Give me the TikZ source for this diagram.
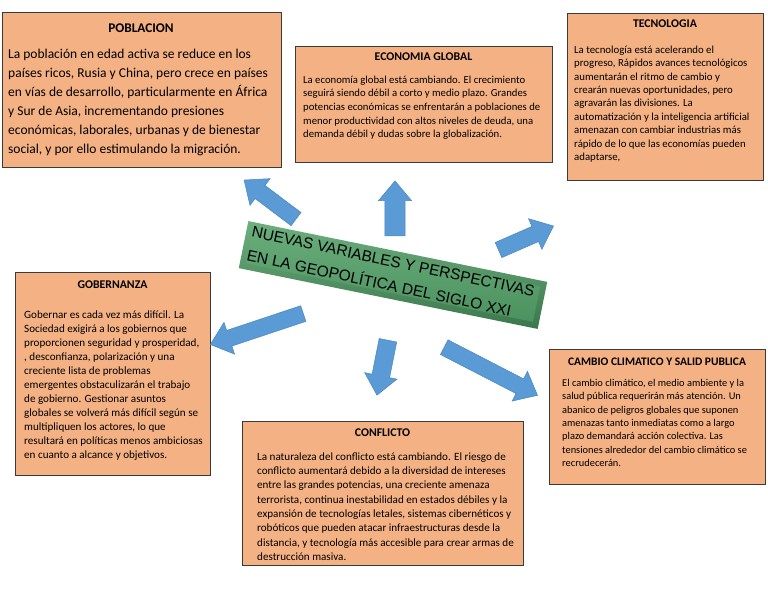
\documentclass[tikz,border=0pt]{standalone}
\usepackage{fontspec}
\setmainfont{Carlito}
\newfontfamily\bannerfont{Liberation Sans}
\usetikzlibrary{shapes.arrows}
\definecolor{boxfill}{HTML}{F4B183}
\definecolor{boxline}{HTML}{3A3A3A}
\definecolor{arrowblue}{HTML}{5B9BD5}
\definecolor{arrowedge}{HTML}{4A86C0}
\definecolor{greendark}{HTML}{3B774C}
\definecolor{greenedge}{HTML}{6DB07E}
\definecolor{greenlight}{HTML}{67AC79}
\definecolor{greenmid}{HTML}{4C9260}
\tikzset{
  infobox/.style={draw=boxline, fill=boxfill, line width=0.9pt, anchor=north west, inner sep=0pt},
  boxtitle/.style={font=\fontsize{11.8}{13}\selectfont\bfseries, inner sep=0pt},
  bodytext/.style={anchor=north west, inner sep=0pt, align=left},
  smallbody/.style={bodytext, font=\fontsize{10.7}{13.6}\selectfont},
  blockarrow/.style={single arrow, fill=arrowblue, draw=arrowedge, line width=0.5pt,
    text height=16pt, text depth=0pt, text width=0pt, minimum width=33pt,
    single arrow head extend=8.5pt, inner sep=0pt, single arrow tip angle=80},
  bannertext/.style={anchor=north west, inner sep=0pt, transform shape, align=left,
    font=\bannerfont\fontsize{15.5}{24}\selectfont},
}
\begin{document}
\begin{tikzpicture}[x=1pt, y=-1pt]
\useasboundingbox (0,0) rectangle (768,594);
\fill[white] (0,0) rectangle (768,594);

% ---------- POBLACION
\node[infobox, minimum width=279pt, minimum height=155pt] (pob) at (2,12) {};
\node[boxtitle, font=\fontsize{13.3}{15}\selectfont\bfseries] (pobt) at (141,28) {POBLACION};
\node[bodytext, font=\fontsize{13.5}{19}\selectfont] (pobb) at (8,45) {\rule{0pt}{13pt}La población en edad activa se reduce en los\\
países ricos, Rusia y China, pero crece en países\\
en vías de desarrollo, particularmente en África\\
y Sur de Asia, incrementando presiones\\
económicas, laborales, urbanas y de bienestar\\
social, y por ello estimulando la migración.};

% ---------- ECONOMIA GLOBAL
\node[infobox, minimum width=257pt, minimum height=116pt] (eco) at (295,46) {};
\node[boxtitle] (ecot) at (423.5,57) {ECONOMIA GLOBAL};
\node[smallbody] (ecob) at (303,73) {\rule{0pt}{10pt}La economía global está cambiando. El crecimiento\\
seguirá siendo débil a corto y medio plazo. Grandes\\
potencias económicas se enfrentarán a poblaciones de\\
menor productividad con altos niveles de deuda, una\\
demanda débil y dudas sobre la globalización.};

% ---------- TECNOLOGIA
\node[infobox, minimum width=196pt, minimum height=167pt] (tec) at (567,13) {};
\node[boxtitle] (tect) at (665,24) {TECNOLOGIA};
\node[smallbody, font=\fontsize{10.8}{13.4}\selectfont] (tecb) at (574,43) {\rule{0pt}{10pt}La tecnología está acelerando el\\
progreso, Rápidos avances tecnológicos\\
aumentarán el ritmo de cambio y\\
crearán nuevas oportunidades, pero\\
agravarán las divisiones. La\\
automatización y la inteligencia artificial\\
amenazan con cambiar industrias más\\
rápido de lo que las economías pueden\\
adaptarse,};

% ---------- GOBERNANZA
\node[infobox, minimum width=195pt, minimum height=203pt] (gob) at (15,272) {};
\node[boxtitle] (gobt) at (112.5,285) {GOBERNANZA};
\node[smallbody, font=\fontsize{11.1}{14}\selectfont] (gobb) at (24,308) {\rule{0pt}{10pt}Gobernar es cada vez más difícil. La\\
Sociedad exigirá a los gobiernos que\\
proporcionen seguridad y prosperidad,\\
, desconfianza, polarización y una\\
creciente lista de problemas\\
emergentes obstaculizarán el trabajo\\
de gobierno. Gestionar asuntos\\
globales se volverá más difícil según se\\
multipliquen los actores, lo que\\
resultará en políticas menos ambiciosas\\
en cuanto a alcance y objetivos.};

% ---------- CONFLICTO
\node[infobox, minimum width=281pt, minimum height=144pt] (con) at (242,421) {};
\node[boxtitle] (cont) at (382.5,433) {CONFLICTO};
\node[smallbody, font=\fontsize{11.1}{14.3}\selectfont] (conb) at (257,450) {\rule{0pt}{10pt}La naturaleza del conflicto está cambiando. El riesgo de\\
conflicto aumentará debido a la diversidad de intereses\\
entre las grandes potencias, una creciente amenaza\\
terrorista, continua inestabilidad en estados débiles y la\\
expansión de tecnologías letales, sistemas cibernéticos y\\
robóticos que pueden atacar infraestructuras desde la\\
distancia, y tecnología más accesible para crear armas de\\
destrucción masiva.};

% ---------- CAMBIO CLIMATICO
\node[infobox, minimum width=216pt, minimum height=135pt] (cam) at (549,349) {};
\node[boxtitle, font=\fontsize{11.5}{13}\selectfont\bfseries] (camt) at (657,362) {CAMBIO CLIMATICO Y SALID PUBLICA};
\node[smallbody, font=\fontsize{10.4}{13.4}\selectfont] (camb) at (562,376) {\rule{0pt}{10pt}El cambio climático, el medio ambiente y la\\
salud pública requerirán más atención. Un\\
abanico de peligros globales que suponen\\
amenazas tanto inmediatas como a largo\\
plazo demandará acción colectiva. Las\\
tensiones alrededor del cambio climático se\\
recrudecerán.};

% ---------- central banner
\node[rotate=-11.5, minimum width=305pt, minimum height=48pt, inner sep=0pt,
      top color=greenedge, bottom color=greendark] (banner) at (393,275) {};
\node[rotate=-11.5, minimum width=293pt, minimum height=36pt, inner sep=0pt,
      top color=greenlight, bottom color=greenmid] (bannerface) at (banner.center) {};
\begin{scope}[shift={(banner.center)}, rotate=-12]
  \node[bannertext] (bt) at (-147,-20) {\rule{0pt}{12pt}NUEVAS VARIABLES Y PERSPECTIVAS\\EN LA GEOPOLÍTICA DEL SIGLO XXI};
\end{scope}

% ---------- block arrows
\node[blockarrow, minimum height=65pt, rotate=143.1] (a1) at (274,202.5) {};
\node[blockarrow, minimum height=55pt, rotate=90, text height=19pt, single arrow head extend=6pt] (a2) at (395,214.5) {};
\node[blockarrow, minimum height=60pt, rotate=23.6] (a3) at (521.5,240) {};
\node[blockarrow, minimum height=98pt, rotate=198.4] (a4) at (261.5,327.5) {};
\node[blockarrow, minimum height=56pt, rotate=258.7, single arrow head extend=7pt] (a5) at (383.5,362.5) {};
\node[blockarrow, minimum height=105pt, rotate=-27.3] (a6) at (486.5,369) {};
\end{tikzpicture}
\end{document}
